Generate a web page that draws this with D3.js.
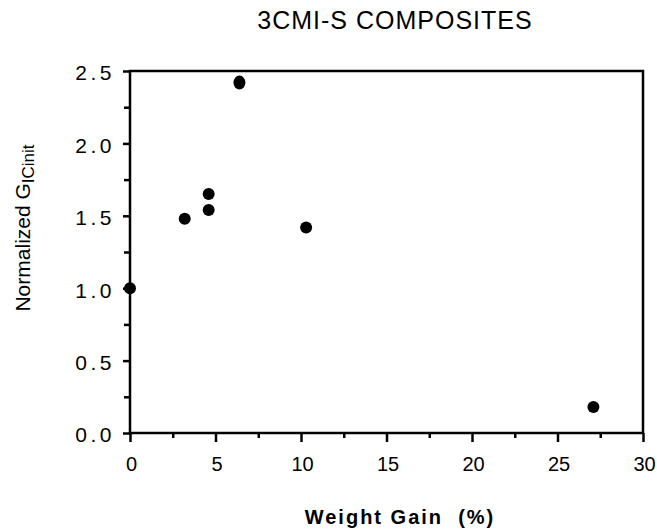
<!DOCTYPE html>
<html>
<head>
<meta charset="utf-8">
<script src="https://cdn.jsdelivr.net/npm/d3@7"></script>
<style>
  body { margin: 0; background: #fff; }
  text { font-family: "Liberation Sans", Arial, sans-serif; fill: #000; }
</style>
</head>
<body>
<div id="output"></div>
<script>
var w = 657;
var h = 530;
var margin = { top: 71, right: 14, bottom: 97, left: 130 };

// data
var weightGain = [0, 3.2, 4.6, 4.6, 6.4, 10.3, 27.1];
var normalizedG = [1.0, 1.48, 1.54, 1.65, 2.42, 1.42, 0.18];
var xTicks = [0, 5, 10, 15, 20, 25, 30];
var yTicks = [0, 0.5, 1.0, 1.5, 2.0, 2.5];
var xMinor = [2.5, 7.5, 12.5, 17.5, 22.5, 27.5];
var yMinor = [0.25, 0.75, 1.25, 1.75, 2.25];

var svg = d3.select('#output').append('svg')
  .attr('width', w)
  .attr('height', h);

var x = d3.scaleLinear().domain([0, 30]).range([margin.left, w - margin.right]);
var y = d3.scaleLinear().domain([0, 2.5]).range([h - margin.bottom, margin.top]);

// frame
svg.append('rect')
  .attr('x', x(0))
  .attr('y', y(2.5))
  .attr('width', x(30) - x(0))
  .attr('height', y(0) - y(2.5))
  .attr('fill', 'none')
  .attr('stroke', '#000')
  .attr('stroke-width', 2.5);

// x axis
var xAxis = svg.append('g')
  .attr('transform', 'translate(0,' + y(0) + ')')
  .call(d3.axisBottom(x).tickValues(xTicks).tickSize(9).tickPadding(15).tickFormat(d3.format('d')));
xAxis.select('.domain').remove();
xAxis.selectAll('line').attr('stroke-width', 2.5);
xAxis.selectAll('text').attr('font-size', 20).attr('dx', 1);

svg.append('g')
  .attr('transform', 'translate(0,' + y(0) + ')')
  .call(d3.axisBottom(x).tickValues(xMinor).tickSize(5).tickFormat(''))
  .call(function (g) { g.select('.domain').remove(); })
  .selectAll('line').attr('stroke-width', 2.5);

// y axis
var yAxis = svg.append('g')
  .attr('transform', 'translate(' + x(0) + ',0)')
  .call(d3.axisLeft(y).tickValues(yTicks).tickSize(7).tickPadding(8).tickFormat(d3.format('.1f')));
yAxis.select('.domain').remove();
yAxis.selectAll('line').attr('stroke-width', 2.5);
yAxis.selectAll('text').attr('font-size', 21).attr('letter-spacing', 3.5).attr('dy', '0.42em');

svg.append('g')
  .attr('transform', 'translate(' + x(0) + ',0)')
  .call(d3.axisLeft(y).tickValues(yMinor).tickSize(6).tickFormat(''))
  .call(function (g) { g.select('.domain').remove(); })
  .selectAll('line').attr('stroke-width', 2.5);

// points
svg.selectAll('ellipse.pt')
  .data(weightGain)
  .enter()
  .append('ellipse')
  .attr('class', 'pt')
  .attr('cx', function (d) { return x(d); })
  .attr('cy', function (d, i) { return y(normalizedG[i]); })
  .attr('rx', 6)
  .attr('ry', function (d, i) { return i === 4 ? 7 : 6; })
  .attr('fill', '#000');

// titles
svg.append('text')
  .attr('x', 395)
  .attr('y', 29)
  .attr('text-anchor', 'middle')
  .attr('font-size', 25)
  .attr('letter-spacing', 1)
  .text('3CMI-S COMPOSITES');

svg.append('text')
  .attr('x', 400)
  .attr('y', 524)
  .attr('text-anchor', 'middle')
  .attr('font-size', 20)
  .attr('font-weight', 'bold')
  .attr('letter-spacing', 2)
  .attr('xml:space', 'preserve')
  .text('Weight Gain  (%)');

var yLab = svg.append('text')
  .attr('transform', 'translate(30,228) rotate(-90)')
  .attr('text-anchor', 'middle')
  .attr('font-size', 21);
yLab.append('tspan').text('Normalized G');
yLab.append('tspan').attr('font-size', 17).attr('dy', 4).text('IC');
yLab.append('tspan').attr('font-size', 17).text('init');
</script>
</body>
</html>
